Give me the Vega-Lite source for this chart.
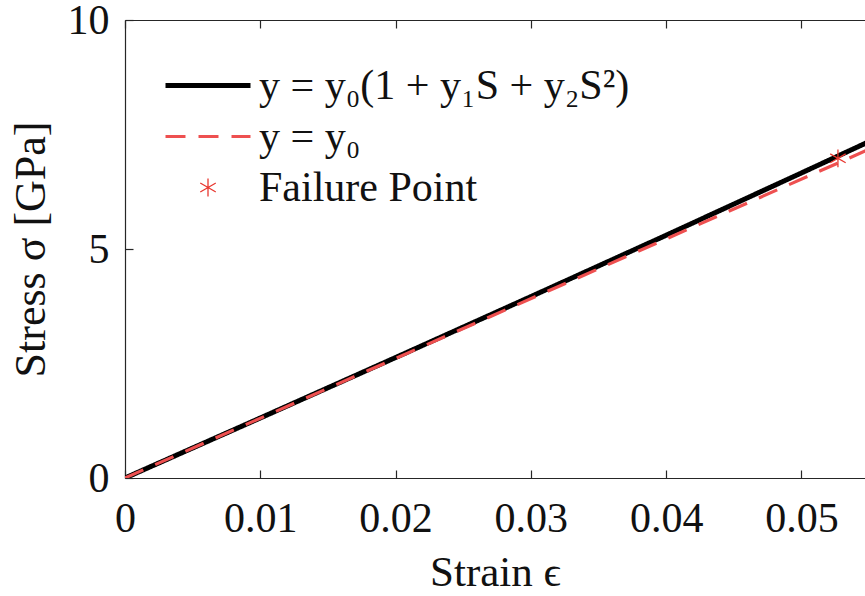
{
  "$schema": "https://vega.github.io/schema/vega-lite/v6.json",
  "width": 740,
  "height": 458,
  "autosize": {"type": "none"},
  "padding": {"left": 125, "top": 20, "right": 0, "bottom": 118},
  "background": "white",
  "config": {
    "view": {"stroke": null},
    "font": "Liberation Serif",
    "axis": {"domainColor": "#262626", "tickColor": "#262626", "labelColor": "#111111", "titleColor": "#111111", "grid": false, "domainWidth": 1.2, "tickWidth": 1.2},
    "legend": {"symbolSize": 7225, "symbolOpacity": 1, "labelLimit": 0, "clipHeight": 51}
  },
  "datasets": {
    "fit": [
      {"strain": 0, "stress": 0, "series": "y = y₀(1 + y₁S + y₂S²)"},
      {"strain": 0.01, "stress": 1.31, "series": "y = y₀(1 + y₁S + y₂S²)"},
      {"strain": 0.02, "stress": 2.63, "series": "y = y₀(1 + y₁S + y₂S²)"},
      {"strain": 0.03, "stress": 3.96, "series": "y = y₀(1 + y₁S + y₂S²)"},
      {"strain": 0.04, "stress": 5.3, "series": "y = y₀(1 + y₁S + y₂S²)"},
      {"strain": 0.05, "stress": 6.66, "series": "y = y₀(1 + y₁S + y₂S²)"},
      {"strain": 0.06, "stress": 8.03, "series": "y = y₀(1 + y₁S + y₂S²)"}
    ],
    "lin": [
      {"strain": 0, "stress": 0, "series": "y = y₀"},
      {"strain": 0.06, "stress": 7.83, "series": "y = y₀"}
    ],
    "fail": [
      {"strain": 0.0527, "stress": 6.98, "series": "Failure Point"}
    ]
  },
  "resolve": {"axis": {"x": "independent"}},
  "layer": [
    {
      "data": {"name": "fit"},
      "mark": {"type": "line", "clip": true, "opacity": 1},
      "encoding": {
        "x": {"field": "strain", "type": "quantitative", "scale": {"domain": [0, 0.0547], "nice": false, "zero": false},
          "axis": {"orient": "bottom", "values": [0, 0.01, 0.02, 0.03, 0.04, 0.05], "format": ".2~f", "tickSize": -8, "labelPadding": 28, "labelFontSize": 42, "title": "Strain ϵ", "titleFontSize": 43, "titleFontWeight": "normal", "titlePadding": 12, "labelFlush": false}},
        "y": {"field": "stress", "type": "quantitative", "scale": {"domain": [0, 10], "nice": false},
          "axis": {"values": [0, 5, 10], "tickSize": -8, "labelPadding": 24, "labelFontSize": 42, "title": "Stress σ [GPa]", "titleFontSize": 44, "titleFontWeight": "normal", "titlePadding": 14, "labelFlush": false}},
        "color": {"field": "series", "type": "nominal", "scale": {"domain": ["y = y₀(1 + y₁S + y₂S²)", "y = y₀", "Failure Point"], "range": ["#000000", "#ee5050", "#e8372f"]},
          "legend": {"orient": "none", "legendX": 38, "legendY": 40, "title": null, "labelFontSize": 42, "labelOffset": 6, "rowPadding": 0, "padding": 0, "labelColor": "#111111", "labelBaseline": "middle"}},
        "strokeDash": {"field": "series", "type": "nominal", "scale": {"domain": ["y = y₀(1 + y₁S + y₂S²)", "y = y₀", "Failure Point"], "range": [[1, 0], [20, 13], [1, 0]]},
          "legend": {"orient": "none", "legendX": 38, "legendY": 40, "title": null, "labelFontSize": 42, "labelOffset": 6, "rowPadding": 0, "padding": 0, "labelColor": "#111111", "labelBaseline": "middle"}},
        "strokeWidth": {"field": "series", "type": "nominal", "scale": {"domain": ["y = y₀(1 + y₁S + y₂S²)", "y = y₀", "Failure Point"], "range": [5, 1.3, 3]},
          "legend": {"orient": "none", "legendX": 38, "legendY": 40, "title": null, "labelFontSize": 42, "labelOffset": 6, "rowPadding": 0, "padding": 0, "labelColor": "#111111", "labelBaseline": "middle"}}
      }
    },
    {
      "data": {"name": "lin"},
      "mark": {"type": "line", "clip": true, "opacity": 1},
      "encoding": {
        "x": {"field": "strain", "type": "quantitative", "scale": {"domain": [0, 0.0547], "nice": false, "zero": false},
          "axis": {"orient": "top", "values": [0, 0.01, 0.02, 0.03, 0.04, 0.05], "tickSize": -8, "labels": false, "title": null}},
        "y": {"field": "stress", "type": "quantitative"},
        "color": {"field": "series", "type": "nominal"},
        "strokeDash": {"field": "series", "type": "nominal"},
        "strokeWidth": {"field": "series", "type": "nominal"}
      }
    },
    {
      "data": {"name": "fail"},
      "mark": {"type": "point", "filled": false, "size": 7225, "clip": true, "opacity": 1},
      "encoding": {
        "x": {"field": "strain", "type": "quantitative", "axis": null},
        "y": {"field": "stress", "type": "quantitative"},
        "color": {"field": "series", "type": "nominal"},
        "strokeWidth": {"field": "series", "type": "nominal"},
        "shape": {"field": "series", "type": "nominal", "scale": {"domain": ["y = y₀(1 + y₁S + y₂S²)", "y = y₀", "Failure Point"], "range": ["M-1,0L1,0", "M-1,0L1,0", "M0,-0.21L0,0.21M-0.182,-0.105L0.182,0.105M-0.182,0.105L0.182,-0.105"]},
          "legend": {"orient": "none", "legendX": 38, "legendY": 40, "title": null, "labelFontSize": 42, "labelOffset": 6, "rowPadding": 0, "padding": 0, "labelColor": "#111111", "labelBaseline": "middle"}}
      }
    }
  ]
}
